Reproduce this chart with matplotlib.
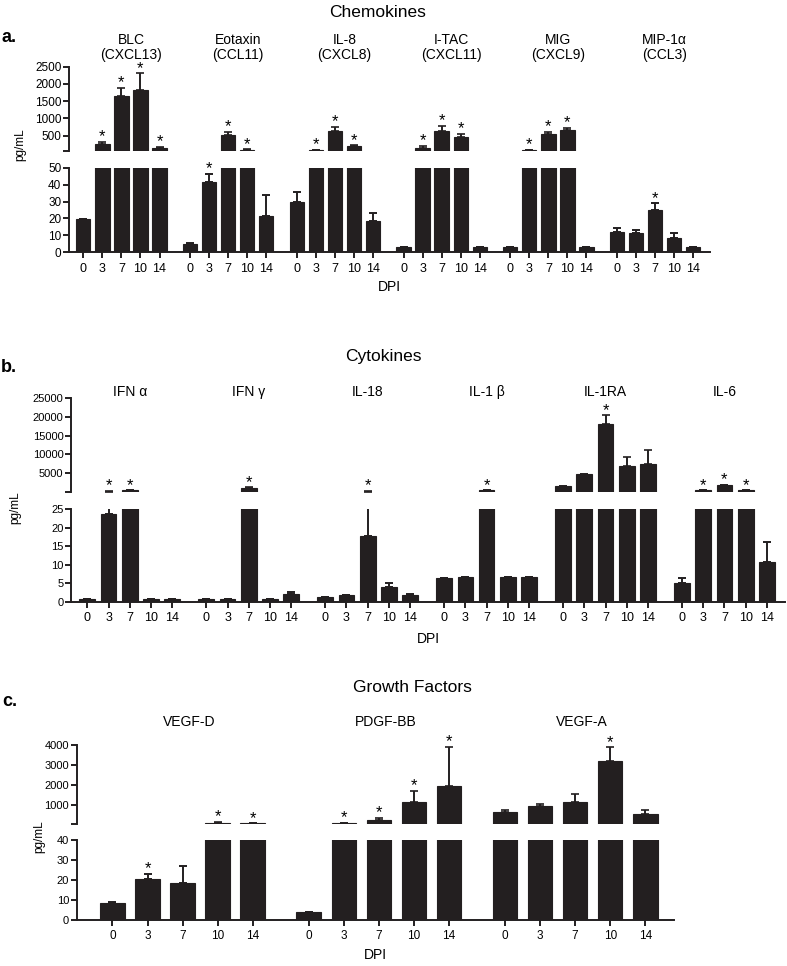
import numpy as np
import matplotlib.pyplot as plt
from matplotlib import transforms

plt.rcParams['font.family'] = ['Liberation Sans', 'DejaVu Sans']

dpi_labels = ['0', '3', '7', '10', '14']

# a. chemokines (pg/mL, mean and upper error)
chemo_names = ['BLC\n(CXCL13)', 'Eotaxin\n(CCL11)', 'IL-8\n(CXCL8)',
               'I-TAC\n(CXCL11)', 'MIG\n(CXCL9)', 'MIP-1α\n(CCL3)']
chemo_mean = [[19.5, 245, 1650, 1820, 145],
              [5.2, 41.7, 515, 90, 21.6],
              [29.9, 75, 640, 186, 18.7],
              [3.3, 137, 640, 448, 3.3],
              [3.3, 80, 544, 669, 3.3],
              [11.8, 11.4, 25.2, 8.3, 3.3]]
chemo_err = [[0.3, 58, 222, 487, 30],
             [0.3, 4.5, 78, 8, 12.2],
             [5.7, 6, 107, 29, 4.3],
             [0, 58, 136, 87, 0],
             [0, 4, 58, 58, 0],
             [2.7, 1.6, 3.7, 2.9, 0]]
chemo_sig = [[0, 1, 1, 1, 1],
             [0, 1, 1, 1, 0],
             [0, 1, 1, 1, 0],
             [0, 1, 1, 1, 0],
             [0, 1, 1, 1, 0],
             [0, 0, 1, 0, 0]]

# b. cytokines
cyto_names = ['IFN α', 'IFN γ', 'IL-18', 'IL-1 β', 'IL-1RA', 'IL-6']
cyto_mean = [[0.8, 23.6, 300, 0.8, 0.8],
             [0.6, 0.6, 1040, 0.6, 2.0],
             [1.35, 1.7, 17.8, 3.9, 1.7],
             [6.3, 6.65, 300, 6.65, 6.55],
             [1410, 4620, 18200, 6855, 7390],
             [5.1, 300, 1766, 300, 10.8]]
cyto_err = [[0, 136, 0, 0, 0],
            [0, 0, 60, 0, 0.7],
            [0, 0.2, 142, 1.2, 0.5],
            [0, 0, 0, 0, 0],
            [100, 100, 2230, 2500, 3750],
            [1.4, 0, 130, 0, 5.4]]
cyto_sig = [[0, 1, 1, 0, 0],
            [0, 0, 1, 0, 0],
            [0, 0, 1, 0, 0],
            [0, 0, 1, 0, 0],
            [0, 0, 1, 0, 0],
            [0, 1, 1, 1, 0]]

# c. growth factors
growth_names = ['VEGF-D', 'PDGF-BB', 'VEGF-A']
growth_mean = [[8.3, 20.5, 18.7, 123, 80],
               [3.8, 80, 240, 1155, 1970],
               [639, 939, 1138, 3218, 556]]
growth_err = [[0.9, 2.5, 8.5, 33, 0],
              [0, 10, 116, 549, 1947],
              [100, 116, 416, 666, 199]]
growth_sig = [[0, 1, 0, 1, 1],
              [0, 1, 1, 1, 1],
              [0, 0, 0, 1, 0]]

W, H = 787, 966
fig = plt.figure(figsize=(W / 100, H / 100), dpi=100)
ink = '#231f20'
step = 5.6


def box(x0, y0, x1, y1):
    return [x0 / W, 1 - y1 / H, (x1 - x0) / W, (y1 - y0) / H]


def panel(x0, x1, top_y, bot_y, xlim, names, means, errs, sigs, brk, top_max,
          top_ticks, bot_ticks, bar_w, label_y, label_dx, xt_fs, yt_fs, dpi_y):
    ax_t = fig.add_axes(box(x0, top_y[0], x1, top_y[1]))
    ax_b = fig.add_axes(box(x0, bot_y[0], x1, bot_y[1]))
    xs_all = []
    for g in range(len(names)):
        x = g * step + np.arange(5)
        xs_all.extend(x)
        m = np.array(means[g], dtype=float)
        e = np.array(errs[g], dtype=float)
        # lower panel: everything, clipped at the break
        ax_b.bar(x, m, width=bar_w, color=ink, edgecolor=ink, linewidth=0.8)
        ax_b.errorbar(x, m, yerr=[np.zeros(5), e], fmt='none', ecolor=ink,
                      elinewidth=1.4, capsize=2.6, capthick=1.4)
        # upper panel: only what rises above the break
        up = m > brk
        if up.any():
            ax_t.bar(x[up], m[up], width=bar_w, color=ink, edgecolor=ink, linewidth=0.8)
        up_e = (m + e) > brk
        if up_e.any():
            ax_t.errorbar(x[up_e], m[up_e], yerr=[np.zeros(up_e.sum()), e[up_e]],
                          fmt='none', ecolor=ink, elinewidth=1.4, capsize=2.6, capthick=1.2)
        for i in range(5):
            if sigs[g][i]:
                top = m[i] + e[i]
                ax = ax_t if top > brk else ax_b
                ax.annotate('*', (x[i], top), xytext=(0, 0.5), textcoords='offset points',
                            ha='center', va='baseline', fontsize=12, annotation_clip=False)
        tr = transforms.blended_transform_factory(ax_t.transData, fig.transFigure)
        fig.text(g * step + 2 + label_dx, 1 - label_y / H, names[g], transform=tr,
                 ha='center', va='center', fontsize=10, linespacing=1.05)

    ax_t.set_ylim(brk, top_max)
    ax_b.set_ylim(0, brk)
    for ax in (ax_t, ax_b):
        ax.set_xlim(*xlim)
        ax.spines['top'].set_visible(False)
        ax.spines['right'].set_visible(False)
        for s in ('left', 'bottom'):
            ax.spines[s].set_linewidth(1.4)
            ax.spines[s].set_color(ink)
        ax.tick_params(direction='out', length=4, width=1.4, color=ink,
                       labelsize=yt_fs, pad=1.5)
        ax.patch.set_alpha(0)
    ax_t.spines['bottom'].set_visible(False)
    ax_t.set_xticks([])
    ax_t.set_yticks([brk] + top_ticks)
    ax_t.set_yticklabels([''] + [str(t) for t in top_ticks])
    ax_b.set_yticks(bot_ticks)
    ax_b.set_xticks(xs_all)
    ax_b.set_xticklabels(dpi_labels * len(names))
    ax_b.tick_params(axis='x', labelsize=xt_fs, pad=3.5)
    trx = transforms.blended_transform_factory(ax_b.transAxes, fig.transFigure)
    fig.text(0.5, 1 - dpi_y / H, 'DPI', transform=trx, ha='center', va='center', fontsize=10)


panel(69, 710, (66.7, 151), (167.7, 252.3), (-0.75, 32.88),
      chemo_names, chemo_mean, chemo_err, chemo_sig, 50, 2500,
      [500, 1000, 1500, 2000, 2500], [0, 10, 20, 30, 40, 50],
      0.75, 47.5, 0.5, 9, 8.5, 287)
panel(71, 785, (398.3, 491.5), (509, 601.7), (-0.77, 32.85),
      cyto_names, cyto_mean, cyto_err, cyto_sig, 25, 25000,
      [5000, 10000, 15000, 20000, 25000], [0, 5, 10, 15, 20, 25],
      0.74, 391.7, 0, 9, 8, 639)
panel(76.7, 674, (745, 824.3), (840, 920), (-1.02, 16.02),
      growth_names, growth_mean, growth_err, growth_sig, 40, 4000,
      [1000, 2000, 3000, 4000], [0, 10, 20, 30, 40],
      0.70, 721.7, 0.2, 8.5, 8, 955)

fig.text(378 / W, 1 - 12.5 / H, 'Chemokines', ha='center', va='center', fontsize=12.5)
fig.text(383 / W, 1 - 356.7 / H, 'Cytokines', ha='center', va='center', fontsize=12.5)
fig.text(412 / W, 1 - 688 / H, 'Growth Factors', ha='center', va='center', fontsize=12.5)

fig.text(1 / W, 1 - 38 / H, 'a.', ha='left', va='center', fontsize=13, fontweight='bold')
fig.text(1 / W, 1 - 368 / H, 'b.', ha='left', va='center', fontsize=13, fontweight='bold')
fig.text(2 / W, 1 - 701.7 / H, 'c.', ha='left', va='center', fontsize=13, fontweight='bold')

fig.text(20 / W, 1 - 145 / H, 'pg/mL', rotation=90, ha='center', va='center', fontsize=8.5)
fig.text(15 / W, 1 - 508 / H, 'pg/mL', rotation=90, ha='center', va='center', fontsize=8.5)
fig.text(39 / W, 1 - 837 / H, 'pg/mL', rotation=90, ha='center', va='center', fontsize=8.5)

fig.savefig('out.png', dpi=100)
